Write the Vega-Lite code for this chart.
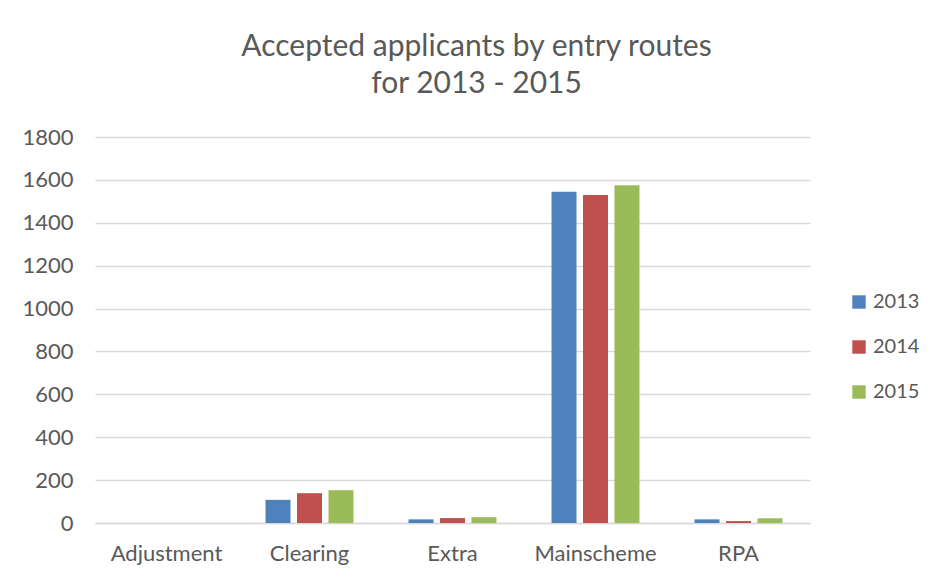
{
  "$schema": "https://vega.github.io/schema/vega-lite/v6.json",
  "width": 715,
  "height": 386,
  "autosize": {"type": "none"},
  "padding": {"left": 95, "top": 137, "right": 125, "bottom": 58},
  "background": "white",
  "title": {
    "text": ["Accepted applicants by entry routes", "for 2013 - 2015"],
    "font": "Lato",
    "fontSize": 30,
    "fontWeight": "normal",
    "color": "#595959",
    "anchor": "middle",
    "frame": "group",
    "lineHeight": 37,
    "offset": 27,
    "dx": 24
  },
  "data": {
    "values": [
      {"route": "Adjustment", "year": "2013", "count": 0},
      {"route": "Adjustment", "year": "2014", "count": 0},
      {"route": "Adjustment", "year": "2015", "count": 0},
      {"route": "Clearing", "year": "2013", "count": 108},
      {"route": "Clearing", "year": "2014", "count": 139},
      {"route": "Clearing", "year": "2015", "count": 153},
      {"route": "Extra", "year": "2013", "count": 17},
      {"route": "Extra", "year": "2014", "count": 23},
      {"route": "Extra", "year": "2015", "count": 27},
      {"route": "Mainscheme", "year": "2013", "count": 1545},
      {"route": "Mainscheme", "year": "2014", "count": 1530},
      {"route": "Mainscheme", "year": "2015", "count": 1575},
      {"route": "RPA", "year": "2013", "count": 17},
      {"route": "RPA", "year": "2014", "count": 9},
      {"route": "RPA", "year": "2015", "count": 22}
    ]
  },
  "mark": {"type": "bar"},
  "encoding": {
    "x": {
      "field": "route",
      "type": "nominal",
      "sort": null,
      "title": null,
      "scale": {"paddingInner": 0.385, "paddingOuter": 0.1925},
      "axis": {
        "labelAngle": 0,
        "labelFont": "Lato",
        "labelFontSize": 22,
        "labelColor": "#595959",
        "labelPadding": 20,
        "ticks": false,
        "domain": true,
        "domainColor": "#D9D9D9",
        "domainWidth": 1.5
      }
    },
    "xOffset": {
      "field": "year",
      "type": "nominal",
      "scale": {"paddingInner": 0.206, "paddingOuter": 0}
    },
    "y": {
      "field": "count",
      "type": "quantitative",
      "title": null,
      "scale": {"domain": [0, 1800], "nice": false},
      "axis": {
        "values": [0, 200, 400, 600, 800, 1000, 1200, 1400, 1600, 1800],
        "format": "d",
        "labelFont": "Lato",
        "labelFontSize": 22,
        "labelColor": "#595959",
        "labelPadding": 22,
        "ticks": false,
        "domain": false,
        "grid": true,
        "gridColor": "#D9D9D9",
        "gridWidth": 1.5
      }
    },
    "color": {
      "field": "year",
      "type": "nominal",
      "title": null,
      "scale": {"domain": ["2013", "2014", "2015"], "range": ["#4F81BD", "#C0504D", "#9BBB59"]},
      "legend": {
        "orient": "none",
        "legendX": 754,
        "legendY": 155,
        "symbolType": "square",
        "symbolSize": 180,
        "symbolStrokeWidth": 0,
        "labelFont": "Lato",
        "labelFontSize": 20,
        "labelColor": "#595959",
        "labelOffset": 4,
        "rowPadding": 25
      }
    }
  },
  "config": {
    "view": {"stroke": null}
  }
}
